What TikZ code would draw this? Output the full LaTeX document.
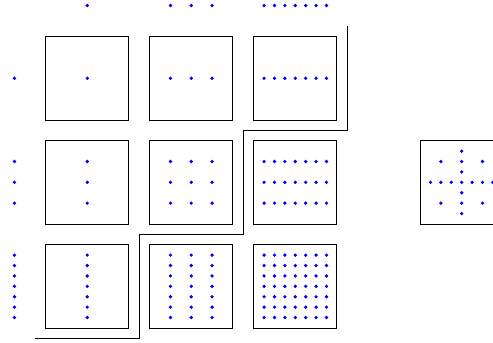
\documentclass[tikz,border=0pt]{standalone}
\tikzset{
  boxnode/.style={draw=black, line width=0.6pt, minimum size=2.08cm, inner sep=0pt},
  dotc/.style={fill=blue},
  stair/.style={draw=black, line width=0.7pt}
}
\newcommand\dotgrid[4]{%
  \foreach \dx in {#3}{\foreach \dy in {#4}{\fill[dotc] (#1+\dx,#2+\dy) circle (1.3pt);}}}
\begin{document}
\begin{tikzpicture}[x=0.26cm,y=0.26cm]
\useasboundingbox (-8.39,-25.36) rectangle (39.01,7.53);
\clip (-8.39,-25.36) rectangle (39.01,7.53);
% boxes
\foreach \i in {0,1,2}{\foreach \j in {0,1,2}{\node[boxnode] (b\i\j) at (10*\j,-10*\i) {};}}
\node[boxnode] (cross) at (36,-10) {};
% top row of dots
\dotgrid{0}{7}{0}{0}
\dotgrid{10}{7}{-2,0,2}{0}
\dotgrid{20}{7}{-3,-2,-1,0,1,2,3}{0}
% left column of dots
\dotgrid{-7}{0}{0}{0}
\dotgrid{-7}{-10}{0}{-2,0,2}
\dotgrid{-7}{-20}{0}{-3,-2,-1,0,1,2,3}
% grid boxes
\dotgrid{0}{0}{0}{0}
\dotgrid{10}{0}{-2,0,2}{0}
\dotgrid{20}{0}{-3,-2,-1,0,1,2,3}{0}
\dotgrid{0}{-10}{0}{-2,0,2}
\dotgrid{10}{-10}{-2,0,2}{-2,0,2}
\dotgrid{20}{-10}{-3,-2,-1,0,1,2,3}{-2,0,2}
\dotgrid{0}{-20}{0}{-3,-2,-1,0,1,2,3}
\dotgrid{10}{-20}{-2,0,2}{-3,-2,-1,0,1,2,3}
\dotgrid{20}{-20}{-3,-2,-1,0,1,2,3}{-3,-2,-1,0,1,2,3}
% cross box
\dotgrid{36}{-10}{-3,-2,-1,0,1,2,3}{0}
\dotgrid{36}{-10}{0}{-3,-2,-1,1,2,3}
\dotgrid{36}{-10}{-2,2}{-2,2}
% staircase
\coordinate (s0) at (25,5);
\coordinate (s1) at (25,-5);
\coordinate (s2) at (15,-5);
\coordinate (s3) at (15,-15);
\coordinate (s4) at (5,-15);
\coordinate (s5) at (5,-25);
\coordinate (s6) at (-5,-25);
\draw[stair] (s0) -- (s1) -- (s2) -- (s3) -- (s4) -- (s5) -- (s6);
\end{tikzpicture}
\end{document}
